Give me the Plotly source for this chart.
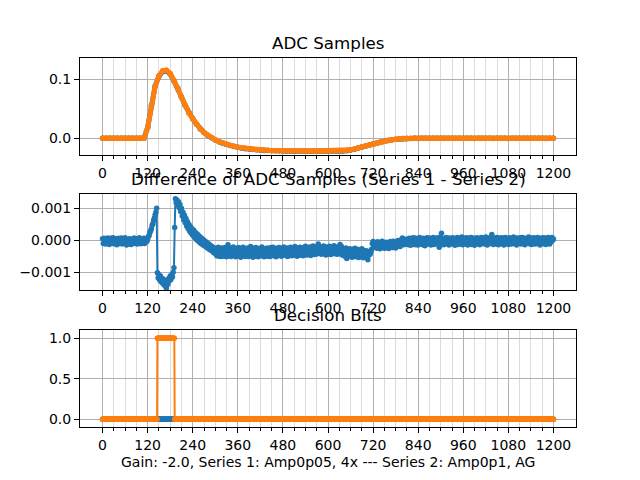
import numpy as np
import plotly.graph_objects as go

# ---------------- data ----------------
# ADC samples, series 2 (orange), sampled every 10 samples, x = 0..1200
adc_x = list(range(0, 1201, 10))
adc_series2 = (
    [0.0] * 12 +                                   # 0..110
    [0.018, 0.055, 0.088, 0.106, 0.1145, 0.1155, 0.110, 0.098, 0.084, 0.069,   # 120..210
     0.055, 0.043, 0.033, 0.024, 0.016, 0.010, 0.005, 0.001, -0.0025, -0.0055, # 220..310
     -0.008, -0.010, -0.012, -0.0135, -0.015, -0.016, -0.017, -0.0178, -0.0185, -0.019,  # 320..410
     -0.0195, -0.020, -0.0203, -0.0206, -0.0208, -0.021] +                     # 420..470
    [-0.0211, -0.0212, -0.0213, -0.0213, -0.0214, -0.0214, -0.0215, -0.0215, -0.0215,
     -0.0215, -0.0215, -0.0214, -0.0214, -0.0213, -0.0213, -0.0212, -0.0211] + # 480..640
    [-0.0205, -0.0195, -0.018, -0.0163, -0.0145, -0.0127, -0.011, -0.0093, -0.0077,
     -0.0062, -0.0048, -0.0035, -0.0024, -0.0015, -0.0008, -0.0003, -0.0001] + # 650..810
    [0.0] * 39                                      # 820..1200
)

# Difference of ADC samples (series 1 - series 2), every 2 samples, x = 0..1200,
# values in units of 1e-5
diff_x = list(range(0, 1201, 2))
diff_seg_a = [  # 0..118
    5, -10, 6, -3, -12, 4, -8, 7, -1, -13,
    2, 6, -9, -4, 8, -11, 1, -7, 5, -14,
    -2, 6, -10, 3, -6, 7, -12, -1, 4, -9,
    8, -6, -15, -3, 2, -11, 5, -5, -13, 3,
    -8, 1, 7, -10, -3, 5, -12, 2, -7, 8,
    -4, -11, 4, -2, -9, 6, -10, 1, 5, -4]
diff_seg_b = [3, 12, 15, 24, 30, 36, 47, 52, 63, 70, 80, 88, 100]  # 120..144
diff_seg_c = [  # 146..190
    -102, -118, -108, -125, -112, -130, -119, -135, -122, -140,
    -128, -145, -150, -132, -138, -120, -127, -112, -123, -108,
    -115, -100, -86]
diff_seg_d = [  # 192..300
    40, 130, 118, 126, 110, 121, 102, 112, 90, 100,
    76, 88, 64, 78, 55, 68, 44, 58, 36, 49,
    28, 42, 22, 36, 16, 32, 10, 26, 5, 21,
    0, 17, -4, 12, -9, 8, -12, 4, -15, 0,
    -18, -4, -21, -8, -25, -11, -28, -15, -31, -19,
    -34, -22, -39, -25, -42]
diff_seg_e = [  # 302..710
    -26, -49, -33, -22, -50, -41, -28, -51, -24, -45,
    -34, -50, -23, -44, -52, -29, -14, -42, -49, -27,
    -51, -25, -43, -21, -48, -36, -52, -26, -45, -31,
    -23, -50, -38, -53, -27, -46, -22, -49, -34, -51,
    -28, -47, -24, -51, -35, -48, -20, -45, -30, -53,
    -25, -44, -50, -23, -47, -32, -52, -26, -46, -29,
    -49, -21, -45, -33, -52, -27, -40, -48, -24, -50,
    -36, -26, -51, -23, -47, -31, -22, -49, -43, -28,
    -52, -25, -42, -48, -23, -46, -30, -50, -26, -44,
    -21, -47, -29, -45, -24, -51, -33, -27, -48, -22,
    -43, -49, -25, -31, -46, -20, -44, -28, -50, -24,
    -40, -47, -22, -29, -45, -26, -49, -23, -42, -19,
    -31, -46, -23, -28, -44, -21, -48, -25, -41, -18,
    -30, -45, -22, -27, -43, -19, -12, -24, -41, -21,
    -44, -23, -29, -18, -42, -26, -46, -21, -39, -24,
    -43, -19, -27, -45, -22, -40, -25, -17, -42, -26,
    -21, -44, -28, -23, -42, -13, -27, -20, -46, -30,
    -48, -32, -51, -24, -57, -45, -29, -50, -27, -47,
    -31, -53, -28, -49, -44, -25, -52, -33, -48, -29,
    -54, -35, -30, -51, -27, -49, -55, -32, -47, -52,
    -33, -50, -61, -48, -35]
diff_seg_f = [  # 712..810
    -44, -36, -28, -10, -4, -19, -7, -23, -11, -25,
    -5, -21, -12, -27, -8, -22, -3, -19, -24, -9,
    -25, -6, -18, -22, -7, -26, -11, -4, -21, -10,
    -23, -3, -17, -8, -24, -6, -19, -1, -16, -7,
    -20, -3, 2, 7, -9, -14, 0, -12, 3, -8]
diff_seg_g = [  # 812..1200
    1, -14, 6, -10, -16, 4, -8, 8, -13, -1,
    7, -14, -4, 5, -15, 2, 9, -11, -6, 4,
    -14, 6, -9, -17, 3, -4, 8, -12, 0, 7,
    -10, -15, 5, -7, 9, -13, 1, 6, -11, -5,
    8, -12, -22, -2, 10, 22, 4, -9, -14, 3,
    -6, 9, -11, 0, 7, -15, -4, 6, -12, 2,
    8, -10, -1, -16, 5, -8, 9, -13, 1, 6,
    -11, -3, 10, -14, 2, -7, 7, -12, -1, 8,
    -15, -2, 5, -9, 9, -13, 0, 7, -8, -16,
    4, -5, 8, -11, -1, 6, -14, 2, 9, -9,
    -2, 7, -12, 1, 10, -8, -15, 5, -4, 8,
    -10, 6, 18, -1, -13, 7, -6, 3, -12, 9,
    -2, -14, 5, -8, 8, 0, -11, 7, -15, 2,
    9, -9, -2, 6, -13, 1, 8, -6, -12, 4,
    -5, 10, -11, 2, -1, -15, 7, -8, 3, -3,
    8, -12, 0, 9, -9, 4, -14, -3, 6, -7,
    2, 10, -11, -1, 7, -13, 3, -8, 8, -4,
    -12, 5, -5, 9, -10, 2, -15, 6, -6, 3,
    8, -11, -1, 7, -13, 4, -8, 9, -2, -12,
    5, -5, 9, 0, 4]
diff_e5 = (diff_seg_a + diff_seg_b + diff_seg_c + diff_seg_d +
           diff_seg_e + diff_seg_f + diff_seg_g)
assert len(diff_e5) == len(diff_x), (len(diff_e5), len(diff_x))
assert len(adc_series2) == len(adc_x), (len(adc_series2), len(adc_x))
diff_values = [v * 1e-5 for v in diff_e5]

# ADC series 1 = series 2 + difference (at the ADC sample positions)
diff_lookup = dict(zip(diff_x, diff_values))
adc_series1 = [a + diff_lookup[x] for x, a in zip(adc_x, adc_series2)]

# Decision bits per sample (0..1200)
bits_x = list(range(0, 1201))
bits_series1 = [0] * 1201
bits_series2 = [0] * 146 + [1] * 46 + [0] * 1009

titles = ["ADC Samples", "Difference of ADC Samples (Series 1 - Series 2)", "Decision Bits"]
xlabel = "Gain: -2.0, Series 1: Amp0p05, 4x --- Series 2: Amp0p1, AG"
x_ticks = list(range(0, 1201, 120))
x_minor_ticks = [t for t in range(0, 1201, 30) if t % 120]
y_ticks = [[0.0, 0.1], [-0.001, 0.0, 0.001], [0.0, 0.5, 1.0]]
y_ticklabels = [["0.0", "0.1"], ["\u22120.001", "0.000", "0.001"], ["0.0", "0.5", "1.0"]]

# ---------------- figure ----------------
BLUE = "#1f77b4"
ORANGE = "#ff7f0e"
FONT = "DejaVu Sans"

W, H, OFF = 632, 472, 8   # page body adds an 8 px margin


def ydom(top_px, bottom_px):
    return [1 - (bottom_px - OFF) / H, 1 - (top_px - OFF) / H]


x_domain = [(80 - OFF) / W, (576 - OFF) / W]
domains = [ydom(58.3, 155.0), ydom(194.0, 290.0), ydom(330.0, 427.3)]
y_ranges = [[-0.0283, 0.1356], [-0.00156, 0.00145], [-0.099, 1.1025]]

fig = go.Figure()


def add_series(x, y, color, axis_idx, lw=2):
    sfx = "" if axis_idx == 1 else str(axis_idx)
    fig.add_trace(go.Scatter(
        x=x, y=y, mode="lines+markers",
        line=dict(color=color, width=lw),
        marker=dict(color=color, size=5.5, line=dict(width=0)),
        xaxis="x" + sfx, yaxis="y" + sfx, showlegend=False, hoverinfo="skip"))


add_series(adc_x, adc_series1, BLUE, 1, lw=5)
add_series(adc_x, adc_series2, ORANGE, 1, lw=5)
add_series(diff_x, diff_values, BLUE, 2)
add_series(bits_x, bits_series1, BLUE, 3)
add_series(bits_x, bits_series2, ORANGE, 3)

layout = dict(
    width=W, height=H,
    margin=dict(l=0, r=0, t=0, b=0),
    paper_bgcolor="white", plot_bgcolor="white",
    font=dict(family=FONT, size=14, color="black"),
    showlegend=False,
)

for i in range(3):
    sfx = "" if i == 0 else str(i + 1)
    layout["xaxis" + sfx] = dict(
        domain=x_domain, range=[-60, 1260], anchor="y" + sfx,
        tickmode="array", tickvals=x_ticks, ticktext=[str(t) for t in x_ticks],
        ticks="outside", ticklen=5, tickwidth=1, tickcolor="black",
        showline=True, linecolor="black", linewidth=1, mirror=True,
        showgrid=True, gridcolor="#b0b0b0", gridwidth=1, zeroline=False,
        tickfont=dict(family=FONT, size=14, color="black"),
        minor=dict(tickmode="array", tickvals=x_minor_ticks, ticks="outside",
                   ticklen=3, tickwidth=1, tickcolor="black",
                   showgrid=True, gridcolor="#dcdcdc", gridwidth=1),
    )
    layout["yaxis" + sfx] = dict(
        domain=domains[i], range=y_ranges[i], anchor="x" + sfx,
        tickmode="array", tickvals=y_ticks[i], ticktext=y_ticklabels[i],
        ticks="outside", ticklen=5, tickwidth=1, tickcolor="black",
        showline=True, linecolor="black", linewidth=1, mirror=True,
        showgrid=True, gridcolor="#b0b0b0", gridwidth=1, zeroline=False,
        tickfont=dict(family=FONT, size=14, color="black"),
    )

x_center = (x_domain[0] + x_domain[1]) / 2
annotations = []
for i, t in enumerate(titles):
    annotations.append(dict(
        text=t, xref="paper", yref="paper", x=x_center, y=domains[i][1],
        xanchor="center", yanchor="bottom", yshift=3, showarrow=False,
        font=dict(family=FONT, size=16.7, color="black")))
annotations.append(dict(
    text=xlabel, xref="paper", yref="paper", x=x_center, y=1 - (462 - OFF) / H,
    xanchor="center", yanchor="middle", showarrow=False,
    font=dict(family=FONT, size=14, color="black")))
layout["annotations"] = annotations

fig.update_layout(**layout)
fig.write_html("out.html")
